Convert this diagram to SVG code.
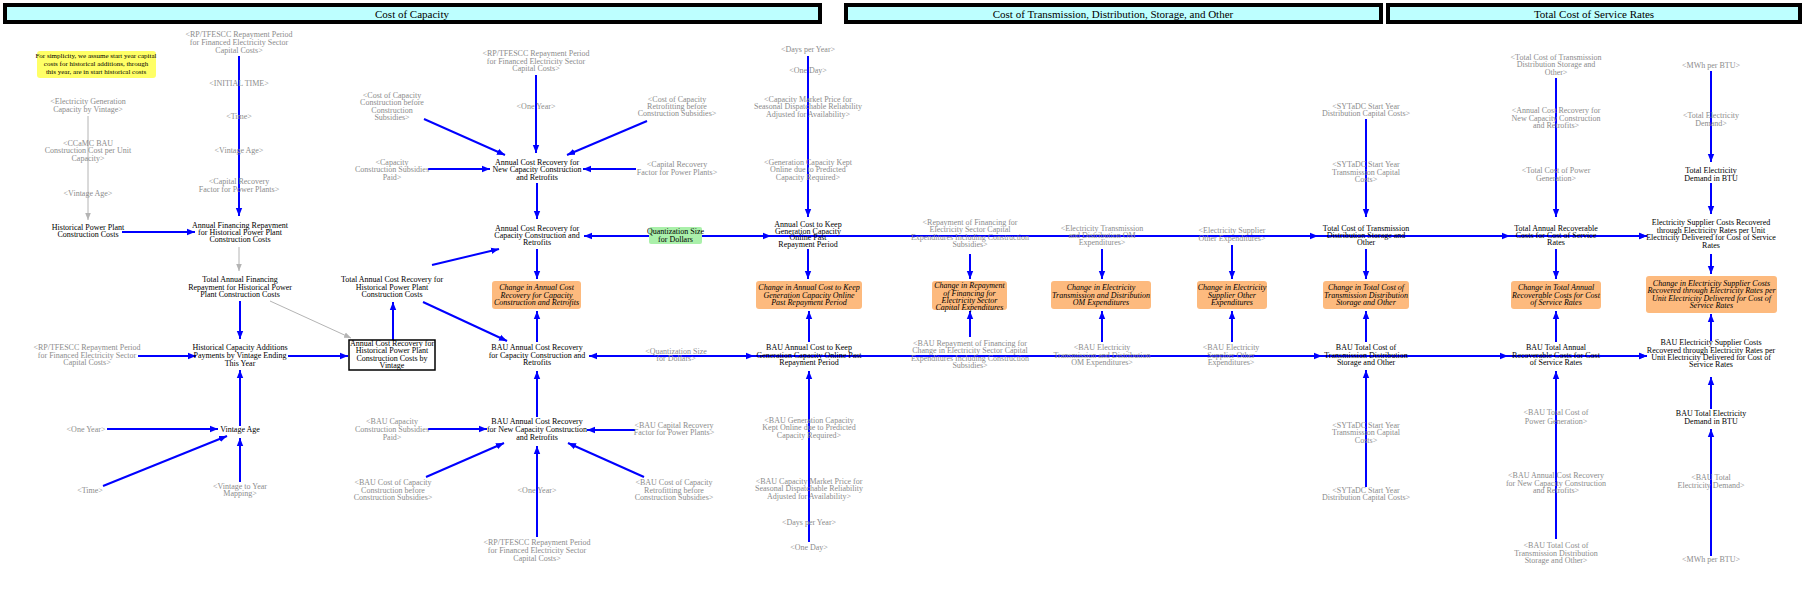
<svg xmlns="http://www.w3.org/2000/svg" width="1804" height="594" viewBox="0 0 1804 594">
<style>
text{font-family:"Liberation Serif","Times New Roman",serif;font-size:8px;text-anchor:middle;fill:#000}
.s{fill:#8c8c8c}
.i{font-style:italic}
.h{font-size:11px}
.hdr{fill:#bdffff;stroke:#000;stroke-width:4}
.o{fill:#fdba7e}
.b{stroke:#0000ff;stroke-width:2;fill:none;marker-end:url(#ab)}
.g{stroke:#b4b4b4;stroke-width:1;fill:none;marker-end:url(#ag)}
</style>
<defs>
<marker id="ab" viewBox="0 0 10 10" refX="10" refY="5" markerWidth="8" markerHeight="8" markerUnits="userSpaceOnUse" orient="auto"><path d="M0,1 L10,5 L0,9 z" fill="#0000ff"/></marker>
<marker id="ag" viewBox="0 0 10 10" refX="10" refY="5" markerWidth="7" markerHeight="7" markerUnits="userSpaceOnUse" orient="auto"><path d="M0,1 L10,5 L0,9 z" fill="#b4b4b4"/></marker>
</defs>
<rect width="1804" height="594" fill="#fff"/>
<g id="headers">
<rect class="hdr" x="5" y="5" width="815" height="17"/><text class="h" x="412" y="17.5">Cost of Capacity</text>
<rect class="hdr" x="846" y="5" width="535" height="17"/><text class="h" x="1113" y="17.5">Cost of Transmission, Distribution, Storage, and Other</text>
<rect class="hdr" x="1388" y="5" width="412" height="17"/><text class="h" x="1594" y="17.5">Total Cost of Service Rates</text>
</g>
<g id="connectors">
<path class="g" d="M88,116 L88,220"/>
<path class="b" d="M122,232 L195,232"/>
<path class="b" d="M239,56 L239,216"/>
<path class="g" d="M239,247 L239,271"/>
<path class="g" d="M270,301 L351,338"/>
<path class="b" d="M240,301 L240,339"/>
<path class="b" d="M138,356 L196,356"/>
<path class="b" d="M288,356 L348,356"/>
<path class="b" d="M240,426 L240,370"/>
<path class="b" d="M107,429 L218,429"/>
<path class="b" d="M103,486 L227,436"/>
<path class="b" d="M240,482 L240,438"/>
<path class="b" d="M393,340 L393,302"/>
<path class="b" d="M432,265 L499,249"/>
<path class="b" d="M423,302 L507,341"/>
<path class="b" d="M536,75 L536,153"/>
<path class="b" d="M424,119 L505,155"/>
<path class="b" d="M428,169 L490,169"/>
<path class="b" d="M647,121 L567,155"/>
<path class="b" d="M636,169 L583,169"/>
<path class="b" d="M537,183 L537,219"/>
<path class="b" d="M537,249 L537,279"/>
<path class="b" d="M649,236 L584,236"/>
<path class="b" d="M702,236 L771,236"/>
<path class="b" d="M702,236 L1318,236"/>
<path class="b" d="M702,236 L1510,236"/>
<path class="b" d="M702,236 L1647,236"/>
<path class="b" d="M1598,236 L1647,236"/>
<path class="b" d="M808,56 L808,217"/>
<path class="b" d="M808,249 L808,279"/>
<path class="b" d="M537,342 L537,311"/>
<path class="b" d="M537,417 L537,371"/>
<path class="b" d="M537,537 L537,446"/>
<path class="b" d="M426,477 L504,443"/>
<path class="b" d="M428,429 L487,429"/>
<path class="b" d="M644,477 L568,443"/>
<path class="b" d="M635,430 L587,430"/>
<path class="b" d="M676,356 L589,356"/>
<path class="b" d="M676,356 L754,356"/>
<path class="b" d="M676,356 L1322,356"/>
<path class="b" d="M676,356 L1508,356"/>
<path class="b" d="M676,356 L1647,356"/>
<path class="b" d="M1598,356 L1647,356"/>
<path class="b" d="M809,342 L809,311"/>
<path class="b" d="M809,542 L809,371"/>
<path class="b" d="M970,254 L970,279"/>
<path class="b" d="M970,337 L970,311"/>
<path class="b" d="M1102,249 L1102,279"/>
<path class="b" d="M1102,342 L1102,311"/>
<path class="b" d="M1232,245 L1232,279"/>
<path class="b" d="M1232,342 L1232,311"/>
<path class="b" d="M1366,119 L1366,217"/>
<path class="b" d="M1366,249 L1366,279"/>
<path class="b" d="M1366,342 L1366,311"/>
<path class="b" d="M1366,487 L1366,370"/>
<path class="b" d="M1556,78 L1556,217"/>
<path class="b" d="M1556,249 L1556,279"/>
<path class="b" d="M1556,342 L1556,311"/>
<path class="b" d="M1556,539 L1556,371"/>
<path class="b" d="M1711,71 L1711,162"/>
<path class="b" d="M1711,183 L1711,214"/>
<path class="b" d="M1711,254 L1711,274"/>
<path class="b" d="M1711,341 L1711,314"/>
<path class="b" d="M1711,409 L1711,377"/>
<path class="b" d="M1711,556 L1711,429"/>
</g>
<g id="note"><rect x="37" y="51" width="119" height="27" rx="3" fill="#ffff66"/><text style="font-size:7px"><tspan x="96" y="57.5">For simplicity, we assume start year capital</tspan><tspan x="96" y="65.5">costs for historical additions, through</tspan><tspan x="96" y="73.5">this year, are in start historical costs</tspan></text></g>
<g id="n1"><text class="s"><tspan x="88" y="104">&lt;Electricity Generation</tspan><tspan x="88" y="112">Capacity by Vintage&gt;</tspan></text></g>
<g id="n2"><text class="s"><tspan x="88" y="146">&lt;CCaMC BAU</tspan><tspan x="88" y="153">Construction Cost per Unit</tspan><tspan x="88" y="161">Capacity&gt;</tspan></text></g>
<g id="n3"><text class="s" x="88" y="196">&lt;Vintage Age&gt;</text></g>
<g id="n4"><text><tspan x="88" y="230">Historical Power Plant</tspan><tspan x="88" y="237">Construction Costs</tspan></text></g>
<g id="n5"><text class="s"><tspan x="239" y="37">&lt;RP/TFESCC Repayment Period</tspan><tspan x="239" y="45">for Financed Electricity Sector</tspan><tspan x="239" y="53">Capital Costs&gt;</tspan></text></g>
<g id="n6"><text class="s" x="239" y="86">&lt;INITIAL TIME&gt;</text></g>
<g id="n7"><text class="s" x="239" y="119">&lt;Time&gt;</text></g>
<g id="n8"><text class="s" x="239" y="153">&lt;Vintage Age&gt;</text></g>
<g id="n9"><text class="s"><tspan x="239" y="184">&lt;Capital Recovery</tspan><tspan x="239" y="192">Factor for Power Plants&gt;</tspan></text></g>
<g id="n10"><text><tspan x="240" y="228">Annual Financing Repayment</tspan><tspan x="240" y="235">for Historical Power Plant</tspan><tspan x="240" y="242">Construction Costs</tspan></text></g>
<g id="n11"><text><tspan x="240" y="282">Total Annual Financing</tspan><tspan x="240" y="290">Repayment for Historical Power</tspan><tspan x="240" y="297">Plant Construction Costs</tspan></text></g>
<g id="n12"><text class="s"><tspan x="87" y="350">&lt;RP/TFESCC Repayment Period</tspan><tspan x="87" y="358">for Financed Electricity Sector</tspan><tspan x="87" y="365">Capital Costs&gt;</tspan></text></g>
<g id="n13"><text><tspan x="240" y="350">Historical Capacity Additions</tspan><tspan x="240" y="358">Payments by Vintage Ending</tspan><tspan x="240" y="366">This Year</tspan></text></g>
<g id="n14"><text x="240" y="432">Vintage Age</text></g>
<g id="n15"><text class="s" x="86" y="432">&lt;One Year&gt;</text></g>
<g id="n16"><text class="s" x="90" y="493">&lt;Time&gt;</text></g>
<g id="n17"><text class="s"><tspan x="240" y="489">&lt;Vintage to Year</tspan><tspan x="240" y="496">Mapping&gt;</tspan></text></g>
<g id="n18"><rect x="349" y="340" width="86" height="30" fill="#fff" stroke="#000" stroke-width="1.5"/><text><tspan x="392" y="346">Annual Cost Recovery for</tspan><tspan x="392" y="353">Historical Power Plant</tspan><tspan x="392" y="361">Construction Costs by</tspan><tspan x="392" y="368">Vintage</tspan></text></g>
<g id="n19"><text><tspan x="392" y="282">Total Annual Cost Recovery for</tspan><tspan x="392" y="290">Historical Power Plant</tspan><tspan x="392" y="297">Construction Costs</tspan></text></g>
<g id="n20"><text class="s"><tspan x="536" y="56">&lt;RP/TFESCC Repayment Period</tspan><tspan x="536" y="64">for Financed Electricity Sector</tspan><tspan x="536" y="71">Capital Costs&gt;</tspan></text></g>
<g id="n21"><text class="s" x="536" y="109">&lt;One Year&gt;</text></g>
<g id="n22"><text class="s"><tspan x="392" y="98">&lt;Cost of Capacity</tspan><tspan x="392" y="105">Construction before</tspan><tspan x="392" y="113">Construction</tspan><tspan x="392" y="120">Subsidies&gt;</tspan></text></g>
<g id="n23"><text class="s"><tspan x="392" y="165">&lt;Capacity</tspan><tspan x="392" y="172">Construction Subsidies</tspan><tspan x="392" y="180">Paid&gt;</tspan></text></g>
<g id="n24"><text><tspan x="537" y="165">Annual Cost Recovery for</tspan><tspan x="537" y="172">New Capacity Construction</tspan><tspan x="537" y="180">and Retrofits</tspan></text></g>
<g id="n25"><text class="s"><tspan x="677" y="102">&lt;Cost of Capacity</tspan><tspan x="677" y="109">Retrofitting before</tspan><tspan x="677" y="116">Construction Subsidies&gt;</tspan></text></g>
<g id="n26"><text class="s"><tspan x="677" y="167">&lt;Capital Recovery</tspan><tspan x="677" y="175">Factor for Power Plants&gt;</tspan></text></g>
<g id="n27"><text><tspan x="537" y="231">Annual Cost Recovery for</tspan><tspan x="537" y="238">Capacity Construction and</tspan><tspan x="537" y="245">Retrofits</tspan></text></g>
<g id="n28"><rect class="o" x="492" y="281" width="89" height="28" rx="3"/><text class="i"><tspan x="536.5" y="290">Change in Annual Cost</tspan><tspan x="536.5" y="297.5">Recovery for Capacity</tspan><tspan x="536.5" y="305">Construction and Retrofits</tspan></text></g>
<g id="n29"><rect x="649" y="227" width="53" height="17" rx="2" fill="#aaf0aa"/><text><tspan x="675.5" y="234">Quantization Size</tspan><tspan x="675.5" y="241.5">for Dollars</tspan></text></g>
<g id="n30"><text><tspan x="808" y="227">Annual Cost to Keep</tspan><tspan x="808" y="233.5">Generation Capacity</tspan><tspan x="808" y="240">Online Past</tspan><tspan x="808" y="246.5">Repayment Period</tspan></text></g>
<g id="n31"><rect class="o" x="756" y="281" width="106" height="28" rx="3"/><text class="i"><tspan x="809" y="290">Change in Annual Cost to Keep</tspan><tspan x="809" y="297.5">Generation Capacity Online</tspan><tspan x="809" y="305">Past Repayment Period</tspan></text></g>
<g id="n32"><text class="s" x="808" y="52">&lt;Days per Year&gt;</text></g>
<g id="n33"><text class="s" x="808" y="73">&lt;One Day&gt;</text></g>
<g id="n34"><text class="s"><tspan x="808" y="102">&lt;Capacity Market Price for</tspan><tspan x="808" y="109">Seasonal Dispatchable Reliability</tspan><tspan x="808" y="117">Adjusted for Availability&gt;</tspan></text></g>
<g id="n35"><text class="s"><tspan x="808" y="165">&lt;Generation Capacity Kept</tspan><tspan x="808" y="172">Online due to Predicted</tspan><tspan x="808" y="180">Capacity Required&gt;</tspan></text></g>
<g id="n36"><text><tspan x="537" y="350">BAU Annual Cost Recovery</tspan><tspan x="537" y="358">for Capacity Construction and</tspan><tspan x="537" y="365">Retrofits</tspan></text></g>
<g id="n37"><text><tspan x="537" y="424">BAU Annual Cost Recovery</tspan><tspan x="537" y="432">for New Capacity Construction</tspan><tspan x="537" y="440">and Retrofits</tspan></text></g>
<g id="n38"><text class="s"><tspan x="392" y="424">&lt;BAU Capacity</tspan><tspan x="392" y="432">Construction Subsidies</tspan><tspan x="392" y="440">Paid&gt;</tspan></text></g>
<g id="n39"><text class="s"><tspan x="393" y="485">&lt;BAU Cost of Capacity</tspan><tspan x="393" y="493">Construction before</tspan><tspan x="393" y="500">Construction Subsidies&gt;</tspan></text></g>
<g id="n40"><text class="s" x="537" y="493">&lt;One Year&gt;</text></g>
<g id="n41"><text class="s"><tspan x="537" y="545">&lt;RP/TFESCC Repayment Period</tspan><tspan x="537" y="553">for Financed Electricity Sector</tspan><tspan x="537" y="561">Capital Costs&gt;</tspan></text></g>
<g id="n42"><text class="s"><tspan x="674" y="428">&lt;BAU Capital Recovery</tspan><tspan x="674" y="435">Factor for Power Plants&gt;</tspan></text></g>
<g id="n43"><text class="s"><tspan x="674" y="485">&lt;BAU Cost of Capacity</tspan><tspan x="674" y="493">Retrofitting before</tspan><tspan x="674" y="500">Construction Subsidies&gt;</tspan></text></g>
<g id="n44"><text class="s"><tspan x="676" y="354">&lt;Quantization Size</tspan><tspan x="676" y="361">for Dollars&gt;</tspan></text></g>
<g id="n45"><text><tspan x="809" y="350">BAU Annual Cost to Keep</tspan><tspan x="809" y="358">Generation Capacity Online Past</tspan><tspan x="809" y="365">Repayment Period</tspan></text></g>
<g id="n46"><text class="s"><tspan x="809" y="423">&lt;BAU Generation Capacity</tspan><tspan x="809" y="430">Kept Online due to Predicted</tspan><tspan x="809" y="438">Capacity Required&gt;</tspan></text></g>
<g id="n47"><text class="s"><tspan x="809" y="484">&lt;BAU Capacity Market Price for</tspan><tspan x="809" y="491">Seasonal Dispatchable Reliability</tspan><tspan x="809" y="499">Adjusted for Availability&gt;</tspan></text></g>
<g id="n48"><text class="s" x="809" y="525">&lt;Days per Year&gt;</text></g>
<g id="n49"><text class="s" x="809" y="550">&lt;One Day&gt;</text></g>
<g id="n50"><text class="s"><tspan x="970" y="225">&lt;Repayment of Financing for</tspan><tspan x="970" y="232">Electricity Sector Capital</tspan><tspan x="970" y="240">Expenditures Including Construction</tspan><tspan x="970" y="247">Subsidies&gt;</tspan></text></g>
<g id="n51"><rect class="o" x="932" y="281" width="75" height="29" rx="3"/><text class="i"><tspan x="969.5" y="288">Change in Repayment</tspan><tspan x="969.5" y="295.5">of Financing for</tspan><tspan x="969.5" y="303">Electricity Sector</tspan><tspan x="969.5" y="310">Capital Expenditures</tspan></text></g>
<g id="n52"><text class="s"><tspan x="970" y="346">&lt;BAU Repayment of Financing for</tspan><tspan x="970" y="353">Change in Electricity Sector Capital</tspan><tspan x="970" y="361">Expenditures Including Construction</tspan><tspan x="970" y="368">Subsidies&gt;</tspan></text></g>
<g id="n53"><text class="s"><tspan x="1102" y="231">&lt;Electricity Transmission</tspan><tspan x="1102" y="238">and Distribution OM</tspan><tspan x="1102" y="245">Expenditures&gt;</tspan></text></g>
<g id="n54"><rect class="o" x="1051" y="281" width="100" height="28" rx="3"/><text class="i"><tspan x="1101" y="290">Change in Electricity</tspan><tspan x="1101" y="297.5">Transmission and Distribution</tspan><tspan x="1101" y="305">OM Expenditures</tspan></text></g>
<g id="n55"><text class="s"><tspan x="1102" y="350">&lt;BAU Electricity</tspan><tspan x="1102" y="358">Transmission and Distribution</tspan><tspan x="1102" y="365">OM Expenditures&gt;</tspan></text></g>
<g id="n56"><text class="s"><tspan x="1232" y="233">&lt;Electricity Supplier</tspan><tspan x="1232" y="241">Other Expenditures&gt;</tspan></text></g>
<g id="n57"><rect class="o" x="1197" y="281" width="70" height="28" rx="3"/><text class="i"><tspan x="1232" y="290">Change in Electricity</tspan><tspan x="1232" y="297.5">Supplier Other</tspan><tspan x="1232" y="305">Expenditures</tspan></text></g>
<g id="n58"><text class="s"><tspan x="1231" y="350">&lt;BAU Electricity</tspan><tspan x="1231" y="358">Supplier Other</tspan><tspan x="1231" y="365">Expenditures&gt;</tspan></text></g>
<g id="n59"><text class="s"><tspan x="1366" y="109">&lt;SYTaDC Start Year</tspan><tspan x="1366" y="116">Distribution Capital Costs&gt;</tspan></text></g>
<g id="n60"><text class="s"><tspan x="1366" y="167">&lt;SYTaDC Start Year</tspan><tspan x="1366" y="175">Transmission Capital</tspan><tspan x="1366" y="182">Costs&gt;</tspan></text></g>
<g id="n61"><text><tspan x="1366" y="231">Total Cost of Transmission</tspan><tspan x="1366" y="238">Distribution Storage and</tspan><tspan x="1366" y="245">Other</tspan></text></g>
<g id="n62"><rect class="o" x="1323" y="281" width="86" height="28" rx="3"/><text class="i"><tspan x="1366" y="290">Change in Total Cost of</tspan><tspan x="1366" y="297.5">Transmission Distribution</tspan><tspan x="1366" y="305">Storage and Other</tspan></text></g>
<g id="n63"><text><tspan x="1366" y="350">BAU Total Cost of</tspan><tspan x="1366" y="358">Transmission Distribution</tspan><tspan x="1366" y="365">Storage and Other</tspan></text></g>
<g id="n64"><text class="s"><tspan x="1366" y="428">&lt;SYTaDC Start Year</tspan><tspan x="1366" y="435">Transmission Capital</tspan><tspan x="1366" y="443">Costs&gt;</tspan></text></g>
<g id="n65"><text class="s"><tspan x="1366" y="493">&lt;SYTaDC Start Year</tspan><tspan x="1366" y="500">Distribution Capital Costs&gt;</tspan></text></g>
<g id="n66"><text class="s"><tspan x="1556" y="60">&lt;Total Cost of Transmission</tspan><tspan x="1556" y="67">Distribution Storage and</tspan><tspan x="1556" y="75">Other&gt;</tspan></text></g>
<g id="n67"><text class="s"><tspan x="1556" y="113">&lt;Annual Cost Recovery for</tspan><tspan x="1556" y="121">New Capacity Construction</tspan><tspan x="1556" y="128">and Retrofits&gt;</tspan></text></g>
<g id="n68"><text class="s"><tspan x="1556" y="173">&lt;Total Cost of Power</tspan><tspan x="1556" y="181">Generation&gt;</tspan></text></g>
<g id="n69"><text><tspan x="1556" y="231">Total Annual Recoverable</tspan><tspan x="1556" y="238">Costs for Cost of Service</tspan><tspan x="1556" y="245">Rates</tspan></text></g>
<g id="n70"><rect class="o" x="1511" y="281" width="90" height="28" rx="3"/><text class="i"><tspan x="1556" y="290">Change in Total Annual</tspan><tspan x="1556" y="297.5">Recoverable Costs for Cost</tspan><tspan x="1556" y="305">of Service Rates</tspan></text></g>
<g id="n71"><text><tspan x="1556" y="350">BAU Total Annual</tspan><tspan x="1556" y="358">Recoverable Costs for Cost</tspan><tspan x="1556" y="365">of Service Rates</tspan></text></g>
<g id="n72"><text class="s"><tspan x="1556" y="415">&lt;BAU Total Cost of</tspan><tspan x="1556" y="424">Power Generation&gt;</tspan></text></g>
<g id="n73"><text class="s"><tspan x="1556" y="478">&lt;BAU Annual Cost Recovery</tspan><tspan x="1556" y="486">for New Capacity Construction</tspan><tspan x="1556" y="493">and Retrofits&gt;</tspan></text></g>
<g id="n74"><text class="s"><tspan x="1556" y="548">&lt;BAU Total Cost of</tspan><tspan x="1556" y="556">Transmission Distribution</tspan><tspan x="1556" y="563">Storage and Other&gt;</tspan></text></g>
<g id="n75"><text class="s" x="1711" y="68">&lt;MWh per BTU&gt;</text></g>
<g id="n76"><text class="s"><tspan x="1711" y="118">&lt;Total Electricity</tspan><tspan x="1711" y="126">Demand&gt;</tspan></text></g>
<g id="n77"><text><tspan x="1711" y="173">Total Electricity</tspan><tspan x="1711" y="181">Demand in BTU</tspan></text></g>
<g id="n78"><text><tspan x="1711" y="225">Electricity Supplier Costs Recovered</tspan><tspan x="1711" y="233">through Electricity Rates per Unit</tspan><tspan x="1711" y="240">Electricity Delivered for Cost of Service</tspan><tspan x="1711" y="248">Rates</tspan></text></g>
<g id="n79"><rect class="o" x="1646" y="276" width="131" height="37" rx="3"/><text class="i"><tspan x="1711.5" y="286">Change in Electricity Supplier Costs</tspan><tspan x="1711.5" y="293">Recovered through Electricity Rates per</tspan><tspan x="1711.5" y="301">Unit Electricity Delivered for Cost of</tspan><tspan x="1711.5" y="308">Service Rates</tspan></text></g>
<g id="n80"><text><tspan x="1711" y="345">BAU Electricity Supplier Costs</tspan><tspan x="1711" y="353">Recovered through Electricity Rates per</tspan><tspan x="1711" y="360">Unit Electricity Delivered for Cost of</tspan><tspan x="1711" y="367">Service Rates</tspan></text></g>
<g id="n81"><text><tspan x="1711" y="416">BAU Total Electricity</tspan><tspan x="1711" y="424">Demand in BTU</tspan></text></g>
<g id="n82"><text class="s"><tspan x="1711" y="480">&lt;BAU Total</tspan><tspan x="1711" y="488">Electricity Demand&gt;</tspan></text></g>
<g id="n83"><text class="s" x="1711" y="562">&lt;MWh per BTU&gt;</text></g>
</svg>
